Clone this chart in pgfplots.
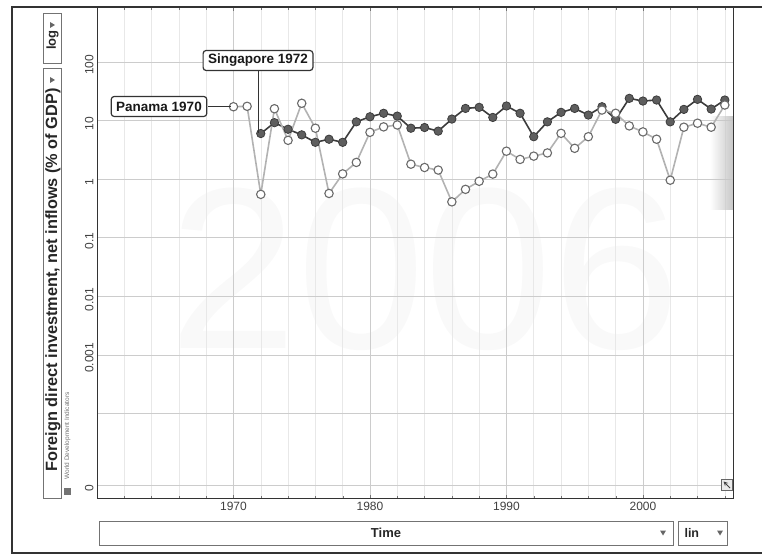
\documentclass[border=0pt]{standalone}
\usepackage{pgfplots}
\pgfplotsset{compat=1.18}
\usetikzlibrary{fadings}
\usepackage{fontspec}
\setmainfont{Liberation Sans}
\definecolor{sgfill}{HTML}{5E5E5E}
\definecolor{sgline}{HTML}{3C3C3C}
\definecolor{pmline}{HTML}{B2B2B2}
\definecolor{pmedge}{HTML}{6A6A6A}
\definecolor{frame}{HTML}{333333}
\begin{document}
\begin{tikzpicture}[x=1pt,y=1pt]
\useasboundingbox (0,0) rectangle (762,554);
% faint background year watermark
\node[text=black!2.5,font=\fontsize{230}{230}\selectfont] at (425,285) {2006};
\begin{axis}[
  at={(97pt,56pt)}, anchor=south west,
  scale only axis, width=636pt, height=490pt,
  ymode=log, ymin=3.63e-6, ymax=832,
  xmin=1960, xmax=2006.6,
  ytick={6.05e-6,1e-4,1e-3,1e-2,0.1,1,10,100},
  yticklabels={0,,0.001,0.01,0.1,1,10,100},
  xtick={1970,1980,1990,2000},
  xticklabels={1970,1980,1990,2000},
  minor xtick={1962,1964,...,2006},
  grid=both,
  major grid style={black!20, line width=0.6pt},
  minor grid style={black!9, line width=0.5pt},
  axis line style={frame, line width=1pt},
  tick style={black!55},
  major tick length=3pt, minor tick length=2pt,
  ytick style={draw=none},
  /pgf/number format/assume math mode=true,
  tick label style={font=\fontsize{12}{14}\selectfont, text=black!75},
  yticklabel style={rotate=90, anchor=south, xshift=-3pt},
  xticklabel style={yshift=-1pt},
  clip=false,
]
% faded shading near the end
\fill[black!22, path fading=west] (axis cs:2004.9,12) rectangle (axis cs:2006.6,0.3);
% Singapore
\addplot[sgline, line width=1.6pt, mark=*, mark size=4.2pt,
  mark options={fill=sgfill, draw=sgline, line width=0.8pt}] coordinates {
(1972,6.0) (1973,9.2) (1974,7.1) (1975,5.7) (1976,4.25) (1977,4.8) (1978,4.25)
(1979,9.5) (1980,11.6) (1981,13.3) (1982,11.9) (1983,7.4) (1984,7.6) (1985,6.6)
(1986,10.6) (1987,16.1) (1988,16.8) (1989,11.3) (1990,17.7) (1991,13.3) (1992,5.3)
(1993,9.5) (1994,13.8) (1995,16.1) (1996,12.4) (1997,17.2) (1998,10.5) (1999,23.9)
(2000,21.5) (2001,22.4) (2002,9.5) (2003,15.5) (2004,23) (2005,15.7) (2006,22.4)
};
% Panama
\addplot[pmline, line width=1.6pt, mark=*, mark size=4.2pt,
  mark options={fill=white, draw=pmedge, line width=1.1pt}] coordinates {
(1970,17.2) (1971,17.5) (1972,0.55) (1973,15.9) (1974,4.6) (1975,19.7) (1976,7.4)
(1977,0.57) (1978,1.23) (1979,1.93) (1980,6.3) (1981,7.8) (1982,8.4) (1983,1.8)
(1984,1.58) (1985,1.43) (1986,0.41) (1987,0.67) (1988,0.92) (1989,1.22) (1990,3.0)
(1991,2.17) (1992,2.47) (1993,2.8) (1994,6.05) (1995,3.36) (1996,5.3) (1997,15.1)
(1998,13.3) (1999,8.1) (2000,6.4) (2001,4.8) (2002,0.96) (2003,7.7) (2004,9.0)
(2005,7.7) (2006,18.4)
};
\end{axis}
% outer frame
\draw[frame, line width=1.4pt] (770,547) -- (12,547) -- (12,1) -- (770,1);
% y label controls
\draw[black!55, line width=0.8pt] (43,541) rectangle (61,491);
\node[rotate=90, font=\fontsize{13}{15}\selectfont\bfseries, text=black!85] at (52.5,514) {log};
\fill[black!60] (50,532) -- (55,529) -- (50,526) -- cycle;
\draw[black!55, line width=0.8pt] (43,486) rectangle (61,56);
\fill[black!60] (50,477) -- (55,474) -- (50,471) -- cycle;
\node[rotate=90, font=\fontsize{16.3}{18}\selectfont\bfseries, text=black!85] at (53,274) {Foreign direct investment, net inflows (\% of GDP)};
\node[rotate=90, font=\fontsize{6.5}{7}\selectfont, text=black!55, anchor=west] at (67.5,71) {World Development Indicators};
\fill[black!55] (64,59) rectangle (71,66);
% x label controls
\draw[black!55, line width=0.8pt] (99,33) rectangle (673,9);
\node[font=\fontsize{13}{15}\selectfont\bfseries, text=black!85] at (386,21) {Time};
\fill[black!60] (660,23.5) -- (666,23.5) -- (663,18.5) -- cycle;
\draw[black!55, line width=0.8pt] (678,33) rectangle (727,9);
\node[font=\fontsize{12.5}{14}\selectfont\bfseries, text=black!85, anchor=west] at (681,21) {lin};
\fill[black!60] (717,23.5) -- (723,23.5) -- (720,18.5) -- cycle;
% corner icon
\draw[black!60, line width=0.8pt, fill=black!8] (721,64) rectangle (732,75);
\draw[black!75, line width=1pt, -stealth] (730,66) -- (723.5,72.5);
% annotations
\draw[frame, line width=0.9pt] (208,447.4) -- (231,447.4);
\node[draw=frame, line width=1.2pt, rounded corners=3pt, fill=white,
  font=\fontsize{13.5}{15}\selectfont\bfseries, inner xsep=5pt, inner ysep=3pt, minimum height=20pt, text=black!90] at (159,447.5) {Panama 1970};
\draw[frame, line width=0.9pt] (258,483) -- (258,421);
\node[draw=frame, line width=1.2pt, rounded corners=3pt, fill=white,
  font=\fontsize{13.5}{15}\selectfont\bfseries, inner xsep=5pt, inner ysep=3pt, minimum height=20pt, text=black!90] at (258,493.5) {Singapore 1972};
\end{tikzpicture}
\end{document}
